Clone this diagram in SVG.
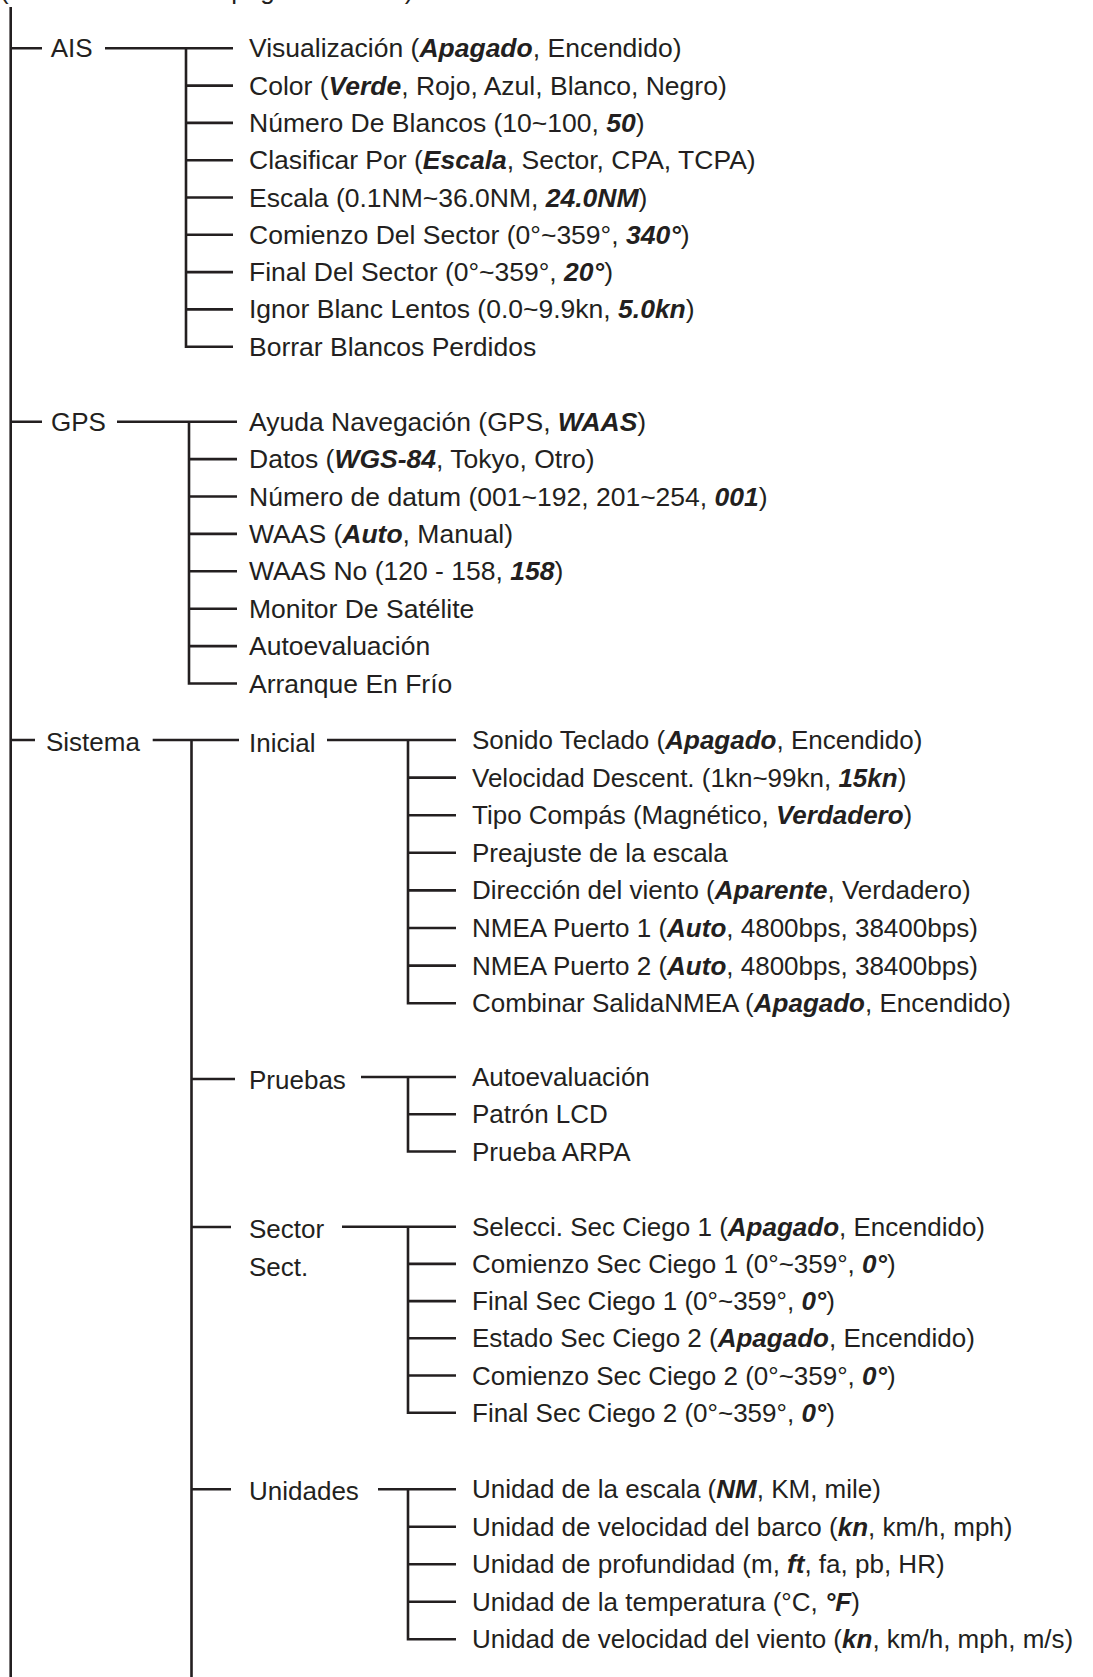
<svg xmlns="http://www.w3.org/2000/svg" width="1093" height="1677" viewBox="0 0 1093 1677">
<style>
.t{font-family:"Liberation Sans",Arial,Helvetica,sans-serif;font-size:26px;fill:#231f20}
.u{font-size:26.5px}
.b{font-weight:bold;font-style:italic}
.c path{stroke:#231f20;stroke-width:2.6;fill:none;stroke-linejoin:miter;stroke-linecap:butt}
</style>
<rect width="1093" height="1677" fill="#ffffff"/>
<text class="t" x="0" y="-1.5">(Continuación de la página anterior)</text>

<g id="connectors" class="c">
<path d="M10.7 7 V1677"/>
<path d="M10.7 48.3 H42 M10.7 421.7 H42 M10.7 740 H35"/>
<path d="M105 48.3 H233 M186 48.3 V346.7 H233 M186 85.6 H233 M186 122.9 H233 M186 160.2 H233 M186 197.5 H233 M186 234.8 H233 M186 272.1 H233 M186 309.4 H233"/>
<path d="M117 421.7 H237 M189 421.7 V683.5 H237 M189 459.1 H237 M189 496.5 H237 M189 533.9 H237 M189 571.3 H237 M189 608.7 H237 M189 646.1 H237"/>
<path d="M152.7 740 H239 M191.5 740 V1677 M191.5 1079 H235 M191.5 1227 H231 M191.5 1489.3 H231"/>
<path d="M327 740 H456 M408 740 V1003.2 H456 M408 777.6 H456 M408 815.2 H456 M408 852.8 H456 M408 890.4 H456 M408 928 H456 M408 965.6 H456"/>
<path d="M361 1077 H456 M408 1077 V1151.5 H456 M408 1114.3 H456"/>
<path d="M342 1226.7 H456 M408 1226.7 V1412.7 H456 M408 1263.9 H456 M408 1301.1 H456 M408 1338.3 H456 M408 1375.5 H456"/>
<path d="M378 1489.3 H456 M408 1489.3 V1639.3 H456 M408 1526.8 H456 M408 1564.3 H456 M408 1601.8 H456"/>
</g>

<g id="ais">
<text class="t" x="50.7" y="57">AIS</text>
</g>
<g id="ais-items">
<text class="t u" x="249" y="57.3">Visualización (<tspan class="b">Apagado</tspan>, Encendido)</text>
<text class="t u" x="249" y="94.6">Color (<tspan class="b">Verde</tspan>, Rojo, Azul, Blanco, Negro)</text>
<text class="t u" x="249" y="131.9">Número De Blancos (10~100, <tspan class="b">50</tspan>)</text>
<text class="t u" x="249" y="169.2">Clasificar Por (<tspan class="b">Escala</tspan>, Sector, CPA, TCPA)</text>
<text class="t u" x="249" y="206.5">Escala (0.1NM~36.0NM, <tspan class="b">24.0NM</tspan>)</text>
<text class="t u" x="249" y="243.8">Comienzo Del Sector (0°~359°, <tspan class="b">340°</tspan>)</text>
<text class="t u" x="249" y="281.1">Final Del Sector (0°~359°, <tspan class="b">20°</tspan>)</text>
<text class="t u" x="249" y="318.4">Ignor Blanc Lentos (0.0~9.9kn, <tspan class="b">5.0kn</tspan>)</text>
<text class="t u" x="249" y="355.7">Borrar Blancos Perdidos</text>
</g>

<g id="gps">
<text class="t" x="51" y="430.5">GPS</text>
</g>
<g id="gps-items">
<text class="t u" x="249" y="430.7">Ayuda Navegación (GPS, <tspan class="b">WAAS</tspan>)</text>
<text class="t u" x="249" y="468.1">Datos (<tspan class="b">WGS-84</tspan>, Tokyo, Otro)</text>
<text class="t u" x="249" y="505.5">Número de datum (001~192, 201~254, <tspan class="b">001</tspan>)</text>
<text class="t u" x="249" y="542.9">WAAS (<tspan class="b">Auto</tspan>, Manual)</text>
<text class="t u" x="249" y="580.3">WAAS No (120 - 158, <tspan class="b">158</tspan>)</text>
<text class="t u" x="249" y="617.7">Monitor De Satélite</text>
<text class="t u" x="249" y="655.1">Autoevaluación</text>
<text class="t u" x="249" y="692.5">Arranque En Frío</text>
</g>

<g id="sistema">
<text class="t" x="46" y="751">Sistema</text>
</g>

<g id="inicial">
<text class="t" x="249" y="752">Inicial</text>
</g>
<g id="inicial-items">
<text class="t" x="472" y="749">Sonido Teclado (<tspan class="b">Apagado</tspan>, Encendido)</text>
<text class="t" x="472" y="786.6">Velocidad Descent. (1kn~99kn, <tspan class="b">15kn</tspan>)</text>
<text class="t" x="472" y="824.2">Tipo Compás (Magnético, <tspan class="b">Verdadero</tspan>)</text>
<text class="t" x="472" y="861.8">Preajuste de la escala</text>
<text class="t" x="472" y="899.4">Dirección del viento (<tspan class="b">Aparente</tspan>, Verdadero)</text>
<text class="t" x="472" y="937">NMEA Puerto 1 (<tspan class="b">Auto</tspan>, 4800bps, 38400bps)</text>
<text class="t" x="472" y="974.6">NMEA Puerto 2 (<tspan class="b">Auto</tspan>, 4800bps, 38400bps)</text>
<text class="t" x="472" y="1012.2">Combinar SalidaNMEA (<tspan class="b">Apagado</tspan>, Encendido)</text>
</g>

<g id="pruebas">
<text class="t" x="249" y="1089">Pruebas</text>
</g>
<g id="pruebas-items">
<text class="t" x="472" y="1086">Autoevaluación</text>
<text class="t" x="472" y="1123.3">Patrón LCD</text>
<text class="t" x="472" y="1160.5">Prueba ARPA</text>
</g>

<g id="sector">
<text class="t" x="249" y="1238">Sector</text>
<text class="t" x="249" y="1276">Sect.</text>
</g>
<g id="sector-items">
<text class="t" x="472" y="1235.7">Selecci. Sec Ciego 1 (<tspan class="b">Apagado</tspan>, Encendido)</text>
<text class="t" x="472" y="1272.9">Comienzo Sec Ciego 1 (0°~359°, <tspan class="b">0°</tspan>)</text>
<text class="t" x="472" y="1310.1">Final Sec Ciego 1 (0°~359°, <tspan class="b">0°</tspan>)</text>
<text class="t" x="472" y="1347.3">Estado Sec Ciego 2 (<tspan class="b">Apagado</tspan>, Encendido)</text>
<text class="t" x="472" y="1384.5">Comienzo Sec Ciego 2 (0°~359°, <tspan class="b">0°</tspan>)</text>
<text class="t" x="472" y="1421.7">Final Sec Ciego 2 (0°~359°, <tspan class="b">0°</tspan>)</text>
</g>

<g id="unidades">
<text class="t" x="249" y="1500">Unidades</text>
</g>
<g id="unidades-items">
<text class="t" x="472" y="1498.3">Unidad de la escala (<tspan class="b">NM</tspan>, KM, mile)</text>
<text class="t" x="472" y="1535.8">Unidad de velocidad del barco (<tspan class="b">kn</tspan>, km/h, mph)</text>
<text class="t" x="472" y="1573.3">Unidad de profundidad (m, <tspan class="b">ft</tspan>, fa, pb, HR)</text>
<text class="t" x="472" y="1610.8">Unidad de la temperatura (°C, <tspan class="b">°F</tspan>)</text>
<text class="t" x="472" y="1648.3">Unidad de velocidad del viento (<tspan class="b">kn</tspan>, km/h, mph, m/s)</text>
</g>
</svg>
